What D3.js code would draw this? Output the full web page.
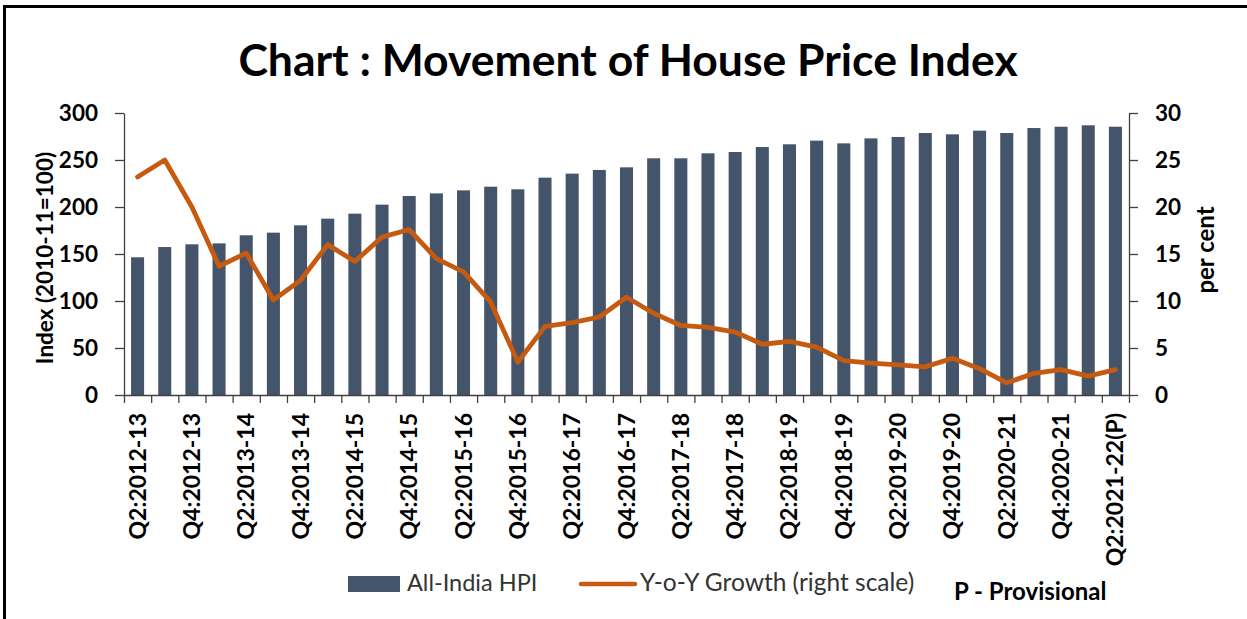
<!DOCTYPE html>
<html>
<head>
<meta charset="utf-8">
<script src="https://cdn.jsdelivr.net/npm/d3@7"></script>
<style>
    body { margin: 0; background: #fff; }
    svg { display: block; font-family: Lato, "Open Sans", sans-serif; }
</style>
</head>
<body>
<div id="chart"></div>
<script>
// quarters shown on the x axis (every second one gets a label)
var quarters = ["Q2:2012-13", "Q3:2012-13", "Q4:2012-13", "Q1:2013-14", "Q2:2013-14", "Q3:2013-14",
    "Q4:2013-14", "Q1:2014-15", "Q2:2014-15", "Q3:2014-15", "Q4:2014-15", "Q1:2015-16", "Q2:2015-16",
    "Q3:2015-16", "Q4:2015-16", "Q1:2016-17", "Q2:2016-17", "Q3:2016-17", "Q4:2016-17", "Q1:2017-18",
    "Q2:2017-18", "Q3:2017-18", "Q4:2017-18", "Q1:2018-19", "Q2:2018-19", "Q3:2018-19", "Q4:2018-19",
    "Q1:2019-20", "Q2:2019-20", "Q3:2019-20", "Q4:2019-20", "Q1:2020-21", "Q2:2020-21", "Q3:2020-21",
    "Q4:2020-21", "Q1:2021-22", "Q2:2021-22(P)"];

// All-India HPI (2010-11=100), left scale
var hpi = [146.5, 157.4, 160.3, 161.3, 169.9, 172.7, 180.5, 187.6, 192.9, 202.5, 211.7, 214.5, 217.7,
    221.6, 218.8, 231.2, 235.5, 239.4, 242.2, 251.8, 251.8, 257.1, 258.5, 263.8, 266.7, 270.6, 267.7,
    273.0, 274.5, 278.7, 277.3, 281.2, 278.7, 284.0, 285.4, 286.9, 285.4];

// Y-o-Y growth in per cent, right scale
var growth = [23.2, 25.0, 20.0, 13.7, 15.1, 10.1, 12.2, 16.0, 14.2, 16.8, 17.6, 14.5, 13.1, 9.9, 3.5,
    7.3, 7.7, 8.3, 10.4, 8.7, 7.4, 7.2, 6.7, 5.4, 5.7, 5.1, 3.65, 3.4, 3.2, 3.0, 3.9, 2.8, 1.3, 2.3,
    2.7, 2.0, 2.7];

var leftTicks = [0, 50, 100, 150, 200, 250, 300];
var rightTicks = [0, 5, 10, 15, 20, 25, 30];

var W = 1247, H = 619;
var margin = { top: 113, right: 118, bottom: 224, left: 124 },
    width = W - margin.left - margin.right,
    height = H - margin.top - margin.bottom;

var barColor = "#44546A", lineColor = "#C55A11", axisColor = "#404040";

var svg = d3.select("#chart")
    .append("svg")
    .attr("width", W)
    .attr("height", H);

// outer frame
svg.append("rect")
    .attr("x", 4.5).attr("y", 6.5)
    .attr("width", W + 10).attr("height", H + 10)
    .attr("fill", "none")
    .attr("stroke", "#000")
    .attr("stroke-width", 3);

svg.append("text")
    .attr("x", 628)
    .attr("y", 76)
    .attr("text-anchor", "middle")
    .attr("font-size", 44.5)
    .attr("font-weight", "bold")
    .attr("fill", "#000")
    .text("Chart : Movement of House Price Index");

var g = svg.append("g")
    .attr("transform", "translate(" + margin.left + "," + margin.top + ")");

var x = d3.scaleBand()
    .domain(quarters)
    .range([0, width])
    .padding(0);

var xTick = d3.scaleLinear()
    .domain([0, quarters.length])
    .range([0, width]);

var y = d3.scaleLinear().domain([0, 300]).range([height, 0]);
var y2 = d3.scaleLinear().domain([0, 30]).range([height, 0]);

var barW = x.bandwidth() * 0.48;

g.selectAll("rect.bar")
    .data(hpi)
    .enter()
    .append("rect")
    .attr("class", "bar")
    .attr("x", function (d, i) { return x(quarters[i]) + (x.bandwidth() - barW) / 2; })
    .attr("y", function (d) { return y(d); })
    .attr("width", barW)
    .attr("height", function (d) { return height - y(d); })
    .attr("fill", barColor);

// x axis: ticks at every quarter boundary
var xAxis = g.append("g")
    .attr("transform", "translate(0," + height + ")")
    .call(d3.axisBottom(xTick).tickValues(d3.range(quarters.length + 1)).tickFormat("").tickSize(8).tickSizeOuter(0));

// rotated labels, every second quarter
g.append("g")
    .selectAll("text")
    .data(quarters.filter(function (q, i) { return i % 2 === 0; }))
    .enter()
    .append("text")
    .attr("transform", function (d) {
        return "translate(" + (x(d) + x.bandwidth() / 2 + 8) + "," + (height + 18) + ") rotate(-90)";
    })
    .attr("text-anchor", "end")
    .attr("font-size", 23)
    .attr("font-weight", "bold")
    .attr("fill", "#000")
    .text(function (d) { return d; });

var yAxis = g.append("g")
    .call(d3.axisLeft(y).tickValues(leftTicks).tickSize(9).tickSizeOuter(0).tickPadding(17));

var yAxis2 = g.append("g")
    .attr("transform", "translate(" + width + ",0)")
    .call(d3.axisRight(y2).tickValues(rightTicks).tickSize(9).tickSizeOuter(0).tickPadding(17));

[xAxis, yAxis, yAxis2].forEach(function (a) {
    a.selectAll("path, line").attr("stroke", axisColor).attr("stroke-width", 1.3);
    a.selectAll("text")
        .attr("font-size", 22.5)
        .attr("font-weight", "bold")
        .attr("fill", "#000")
        .attr("font-family", "Lato, sans-serif");
});

var line = d3.line()
    .x(function (d, i) { return x(quarters[i]) + x.bandwidth() / 2; })
    .y(function (d) { return y2(d); });

g.append("path")
    .datum(growth)
    .attr("fill", "none")
    .attr("stroke", lineColor)
    .attr("stroke-width", 4.8)
    .attr("stroke-linejoin", "round")
    .attr("stroke-linecap", "round")
    .attr("d", line);

// axis titles
svg.append("text")
    .attr("transform", "translate(53,258) rotate(-90)")
    .attr("text-anchor", "middle")
    .attr("font-size", 22.5)
    .attr("font-weight", "bold")
    .attr("fill", "#000")
    .text("Index (2010-11=100)");

svg.append("text")
    .attr("transform", "translate(1214,250) rotate(-90)")
    .attr("text-anchor", "middle")
    .attr("font-size", 24)
    .attr("font-weight", "bold")
    .attr("fill", "#000")
    .text("per cent");

// legend
var legend = svg.append("g");
legend.append("rect")
    .attr("x", 348).attr("y", 576)
    .attr("width", 52).attr("height", 16)
    .attr("fill", barColor);
legend.append("text")
    .attr("x", 407).attr("y", 591)
    .attr("font-size", 23.5)
    .attr("fill", "#333")
    .text("All-India HPI");
legend.append("line")
    .attr("x1", 581).attr("x2", 635)
    .attr("y1", 584).attr("y2", 584)
    .attr("stroke", lineColor)
    .attr("stroke-width", 4.5)
    .attr("stroke-linecap", "round");
legend.append("text")
    .attr("x", 640).attr("y", 591)
    .attr("font-size", 24.5)
    .attr("fill", "#333")
    .text("Y-o-Y Growth (right scale)");

svg.append("text")
    .attr("x", 954).attr("y", 600)
    .attr("font-size", 24)
    .attr("font-weight", "bold")
    .attr("fill", "#000")
    .text("P - Provisional");
</script>
</body>
</html>
